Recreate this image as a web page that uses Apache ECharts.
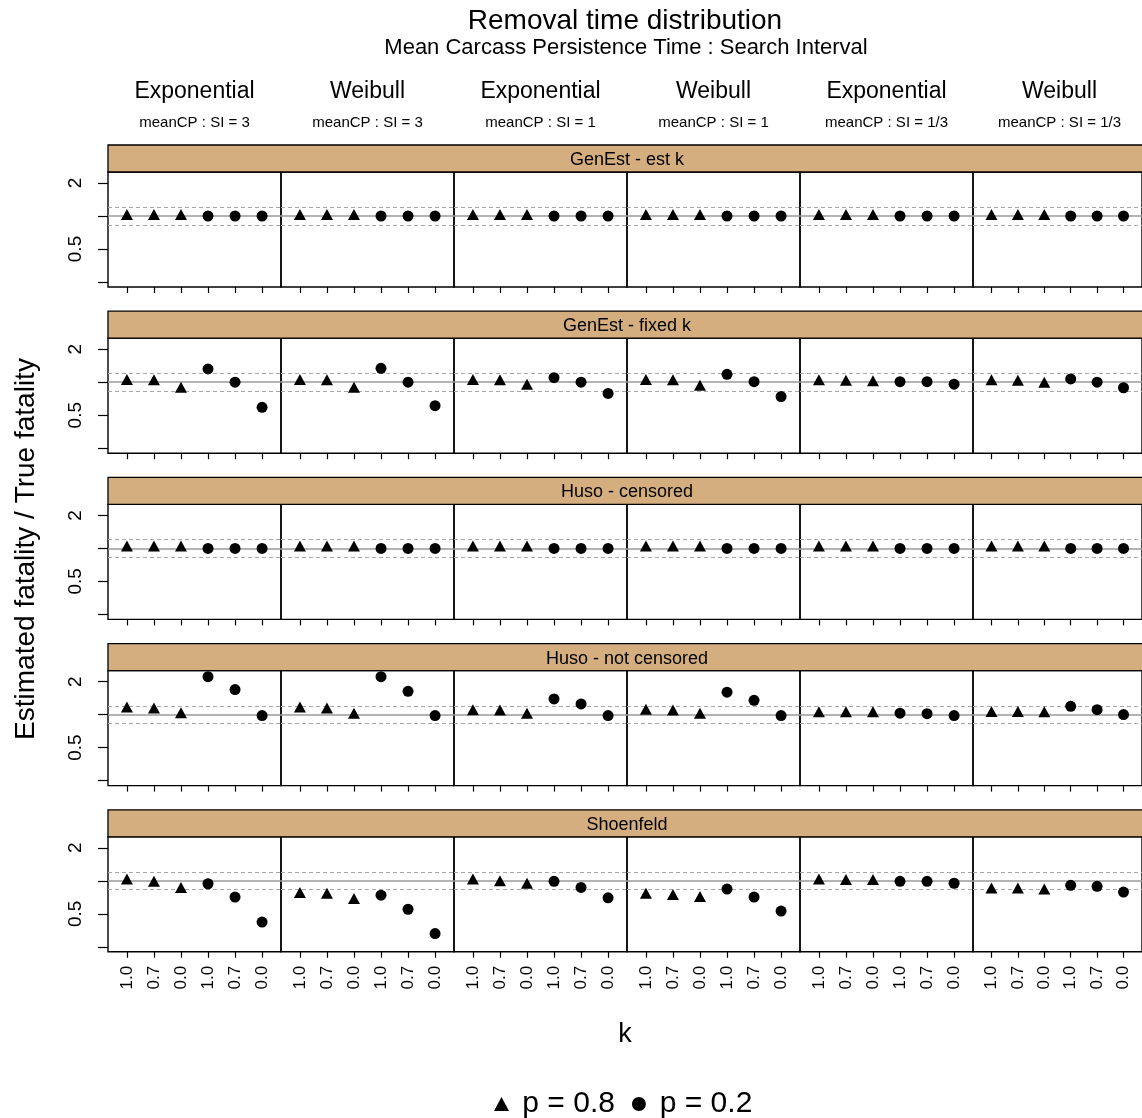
<!DOCTYPE html>
<html><head><meta charset="utf-8">
<script src="https://cdn.jsdelivr.net/npm/echarts@6/dist/echarts.min.js"></script>
<style>html,body{margin:0;padding:0;background:#fff}#c{width:1142px;height:1118px}</style>
</head><body><div id="c"></div>
<script>
// ---------- data ----------
const distributions = ['Exponential', 'Weibull', 'Exponential', 'Weibull', 'Exponential', 'Weibull'];
const ratioLabels = ['meanCP : SI = 3', 'meanCP : SI = 3', 'meanCP : SI = 1', 'meanCP : SI = 1', 'meanCP : SI = 1/3', 'meanCP : SI = 1/3'];
const estimators = ['GenEst - est k', 'GenEst - fixed k', 'Huso - censored', 'Huso - not censored', 'Shoenfeld'];
const kLabels = ['1.0', '0.7', '0.0', '1.0', '0.7', '0.0'];
const pGroups = ['p = 0.8', 'p = 0.2'];
const yTickValues = [0.25, 0.5, 1, 2];
const yLabelValues = [0.5, 2];
const refLine = 1;
const refBand = [0.833, 1.2];

// Estimated / true fatality; one inner array per column panel, in kLabels order
const genEstEstK = [
  [1.03, 1.03, 1.03, 1.0, 1.0, 1.0],
  [1.03, 1.03, 1.03, 1.0, 1.0, 1.0],
  [1.03, 1.03, 1.03, 1.0, 1.0, 1.0],
  [1.03, 1.03, 1.03, 1.0, 1.0, 1.0],
  [1.03, 1.03, 1.03, 1.0, 1.0, 1.0],
  [1.03, 1.03, 1.03, 1.0, 1.0, 1.0]
];
const genEstFixedK = [
  [1.06, 1.05, 0.90, 1.32, 1.0, 0.59],
  [1.06, 1.05, 0.90, 1.34, 1.0, 0.61],
  [1.06, 1.05, 0.96, 1.10, 1.0, 0.79],
  [1.06, 1.05, 0.94, 1.18, 1.01, 0.74],
  [1.05, 1.04, 1.03, 1.01, 1.01, 0.96],
  [1.05, 1.04, 1.0, 1.07, 1.0, 0.89]
];
const husoCensored = [
  [1.05, 1.05, 1.05, 1.0, 1.0, 1.0],
  [1.05, 1.05, 1.05, 1.0, 1.0, 1.0],
  [1.05, 1.05, 1.05, 1.0, 1.0, 1.0],
  [1.05, 1.05, 1.05, 1.0, 1.0, 1.0],
  [1.05, 1.05, 1.05, 1.0, 1.0, 1.0],
  [1.05, 1.05, 1.05, 1.0, 1.0, 1.0]
];
const husoNotCensored = [
  [1.17, 1.15, 1.04, 2.22, 1.69, 0.98],
  [1.17, 1.15, 1.03, 2.22, 1.63, 0.98],
  [1.11, 1.10, 1.03, 1.39, 1.25, 0.98],
  [1.12, 1.10, 1.03, 1.60, 1.35, 0.98],
  [1.06, 1.06, 1.06, 1.03, 1.02, 0.98],
  [1.07, 1.07, 1.06, 1.19, 1.11, 1.0]
];
const shoenfeld = [
  [1.04, 0.99, 0.87, 0.94, 0.71, 0.42],
  [0.78, 0.77, 0.69, 0.74, 0.55, 0.33],
  [1.04, 1.0, 0.95, 0.99, 0.87, 0.70],
  [0.77, 0.75, 0.72, 0.84, 0.71, 0.53],
  [1.04, 1.03, 1.03, 0.99, 0.99, 0.95],
  [0.86, 0.86, 0.84, 0.91, 0.89, 0.79]
];
const rowValues = [genEstEstK, genEstFixedK, husoCensored, husoNotCensored, shoenfeld];

// ---------- layout ----------
const FONT = '"Liberation Sans", Arial, Helvetica, sans-serif';
const left0 = 108, colW = 173, stripTop0 = 145, rowPitch = 166.2, stripH = 27, plotH = 115;
const stripFill = '#D5AE80';

const grids = [], xAxes = [], yAxes = [], series = [], graphics = [];
for (let r = 0; r < estimators.length; r++) {
  const stripTop = stripTop0 + r * rowPitch;
  graphics.push({ type: 'rect', z: 10, shape: { x: left0, y: stripTop, width: colW * 6 + 4, height: stripH },
    style: { fill: stripFill, stroke: '#000', lineWidth: 1.3 } });
  graphics.push({ type: 'text', z: 11, x: left0 + colW * 3, y: stripTop + stripH / 2 + 1.5,
    style: { text: estimators[r], font: '18px ' + FONT, fill: '#000', textAlign: 'center', textVerticalAlign: 'middle' } });
  for (let c = 0; c < 6; c++) {
    const gi = grids.length;
    grids.push({ left: left0 + c * colW, top: stripTop + stripH, width: colW, height: plotH,
      show: true, borderColor: '#000', borderWidth: 1.4, backgroundColor: 'transparent' });
    xAxes.push({ type: 'value', gridIndex: gi, min: 0.3, max: 6.7,
      axisLine: { show: false }, splitLine: { show: false },
      axisTick: { show: true, length: 6, customValues: [1, 2, 3, 4, 5, 6], lineStyle: { color: '#000', width: 1.2 } },
      axisLabel: { show: r === estimators.length - 1, customValues: [1, 2, 3, 4, 5, 6], rotate: 90, margin: 14,
        fontSize: 17, fontFamily: FONT, color: '#000', formatter: v => kLabels[Math.round(v) - 1] } });
    yAxes.push({ type: 'log', logBase: 2, gridIndex: gi, min: 0.225, max: 2.52,
      axisLine: { show: false }, splitLine: { show: false },
      axisTick: { show: c === 0, length: 10, customValues: yTickValues, lineStyle: { color: '#000', width: 1.2 } },
      axisLabel: { show: c === 0, customValues: yLabelValues, rotate: 90, margin: 23,
        fontSize: 19, fontFamily: FONT, color: '#000', formatter: v => String(+(+v).toPrecision(3)) } });
    const vals = rowValues[r][c];
    series.push({ type: 'scatter', name: pGroups[0], xAxisIndex: gi, yAxisIndex: gi, z: 3,
      symbol: 'triangle', symbolSize: [12, 11], itemStyle: { color: '#000', opacity: 1 },
      data: [[1, vals[0]], [2, vals[1]], [3, vals[2]]],
      markLine: { silent: true, symbol: 'none', label: { show: false }, animation: false, z: 2,
        data: [
          { yAxis: refLine, lineStyle: { color: '#9a9a9a', type: 'solid', width: 1.5 } },
          { yAxis: refBand[0], lineStyle: { color: '#a8a8a8', type: [4, 3], width: 1 } },
          { yAxis: refBand[1], lineStyle: { color: '#a8a8a8', type: [4, 3], width: 1 } }
        ] } });
    series.push({ type: 'scatter', name: pGroups[1], xAxisIndex: gi, yAxisIndex: gi, z: 3,
      symbol: 'circle', symbolSize: 11, itemStyle: { color: '#000', opacity: 1 },
      data: [[4, vals[3]], [5, vals[4]], [6, vals[5]]] });
  }
}

// titles and headers
graphics.push({ type: 'text', x: 625, y: 21, style: { text: 'Removal time distribution', font: '28px ' + FONT, fill: '#000', textAlign: 'center', textVerticalAlign: 'middle' } });
graphics.push({ type: 'text', x: 626, y: 48, style: { text: 'Mean Carcass Persistence Time : Search Interval', font: '22px ' + FONT, fill: '#000', textAlign: 'center', textVerticalAlign: 'middle' } });
for (let c = 0; c < 6; c++) {
  const cx = left0 + colW * c + colW / 2;
  graphics.push({ type: 'text', x: cx, y: 92, style: { text: distributions[c], font: '23px ' + FONT, fill: '#000', textAlign: 'center', textVerticalAlign: 'middle' } });
  graphics.push({ type: 'text', x: cx, y: 123, style: { text: ratioLabels[c], font: '15px ' + FONT, fill: '#000', textAlign: 'center', textVerticalAlign: 'middle' } });
}
graphics.push({ type: 'text', x: 26, y: 549, rotation: Math.PI / 2, style: { text: 'Estimated fatality / True fatality', font: '28px ' + FONT, fill: '#000', textAlign: 'center', textVerticalAlign: 'middle' } });
graphics.push({ type: 'text', x: 625, y: 1035, style: { text: 'k', font: '27px ' + FONT, fill: '#000', textAlign: 'center', textVerticalAlign: 'middle' } });

const chart = echarts.init(document.getElementById('c'), null, { renderer: 'canvas' });
chart.setOption({
  animation: false,
  backgroundColor: '#fff',
  grid: grids, xAxis: xAxes, yAxis: yAxes, series: series,
  legend: { left: 489, top: 1084, itemWidth: 15, itemHeight: 14, itemGap: 17,
    textStyle: { fontSize: 30, fontFamily: FONT, color: '#000' },
    formatter: n => ' ' + n,
    data: [{ name: pGroups[0], icon: 'triangle', itemStyle: { opacity: 1 } }, { name: pGroups[1], icon: 'circle', itemStyle: { opacity: 1 } }] },
  graphic: graphics
});
</script></body></html>
